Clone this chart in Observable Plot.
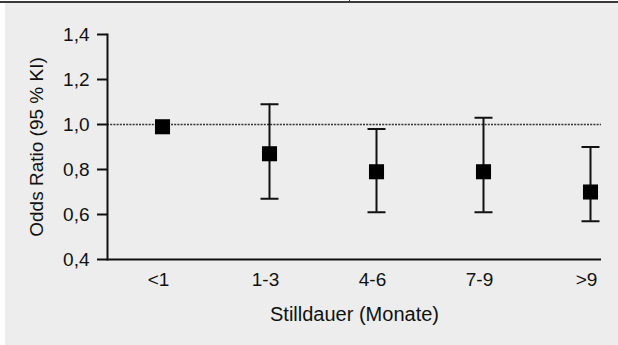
<!DOCTYPE html>
<html>
<head>
<meta charset="utf-8">
<script src="https://cdn.jsdelivr.net/npm/d3@7"></script>
<script src="https://cdn.jsdelivr.net/npm/@observablehq/plot@0.6"></script>
<style>
  html, body { margin: 0; padding: 0; background: #ffffff; }
  #wrap { position: relative; width: 618px; height: 345px; background: #ffffff; overflow: hidden; }
  #topline { position: absolute; left: 0; top: 1px; width: 618px; height: 2px; background: #3a3a3a; }
  #toptick { position: absolute; left: 349px; top: 0; width: 1px; height: 4px; background: #3a3a3a; }
  #chart { position: absolute; left: 5px; top: 3px; }
</style>
</head>
<body>
<div id="wrap">
  <div id="topline"></div>
  <div id="toptick"></div>
  <div id="chart"></div>
</div>
<script>
const categories = ["<1", "1-3", "4-6", "7-9", ">9"];
const oddsRatio = [0.99, 0.87, 0.79, 0.79, 0.70];
const ciLower = [null, 0.67, 0.61, 0.61, 0.57];
const ciUpper = [null, 1.09, 0.98, 1.03, 0.90];
const yTicks = [0.4, 0.6, 0.8, 1.0, 1.2, 1.4];
const referenceValue = [1.0];
const xLabel = "Stilldauer (Monate)";
const yLabel = "Odds Ratio (95 % KI)";

const data = categories.map((c, i) => ({cat: c, or: oddsRatio[i], lo: ciLower[i], hi: ciUpper[i]}));
const ciData = data.filter(d => d.lo != null);

const capSymbol = {
  draw(ctx, size) {
    const r = Math.sqrt(size / Math.PI);
    ctx.moveTo(-r, 0);
    ctx.lineTo(r, 0);
  }
};

const fmt = d => d.toFixed(1).replace(".", ",");
const ink = "#111111";

const chart = Plot.plot({
  width: 613,
  height: 342,
  marginLeft: 102,
  marginRight: 17,
  marginTop: 31,
  marginBottom: 86,
  style: {background: "#ecedec", fontFamily: "'Liberation Sans', Arial, sans-serif", color: ink, overflow: "visible"},
  x: {type: "point", domain: categories, range: [156, 586], padding: 0},
  y: {domain: [0.4, 1.4]},
  marks: [
    Plot.ruleY(referenceValue, {stroke: "#333333", strokeWidth: 1.6, strokeDasharray: "2,1.2"}),
    Plot.ruleX(ciData, {x: "cat", y1: "lo", y2: "hi", stroke: ink, strokeWidth: 2}),
    Plot.dot(ciData, {x: "cat", y: "lo", symbol: capSymbol, r: 9, fill: "none", stroke: ink, strokeWidth: 2}),
    Plot.dot(ciData, {x: "cat", y: "hi", symbol: capSymbol, r: 9, fill: "none", stroke: ink, strokeWidth: 2}),
    Plot.dot(data, {x: "cat", y: "or", symbol: "square", r: 8.5, fill: "#000000", stroke: "none"}),
    Plot.frame({anchor: "left", stroke: ink, strokeWidth: 2}),
    Plot.ruleY([0.4], {stroke: ink, strokeWidth: 2}),
    Plot.axisY({ticks: yTicks, tickFormat: fmt, tickSize: 10, tickPadding: 8, fontSize: 19, strokeWidth: 2,
      label: yLabel, labelAnchor: "center", labelOffset: 78, labelArrow: "none"}),
    Plot.axisX({tickSize: 0, tickPadding: 13, dx: -4, fontSize: 19, label: null}),
    Plot.text([xLabel], {frameAnchor: "bottom", dy: 61, fontSize: 20, fill: ink})
  ]
});
document.getElementById("chart").appendChild(chart);
</script>
</body>
</html>
